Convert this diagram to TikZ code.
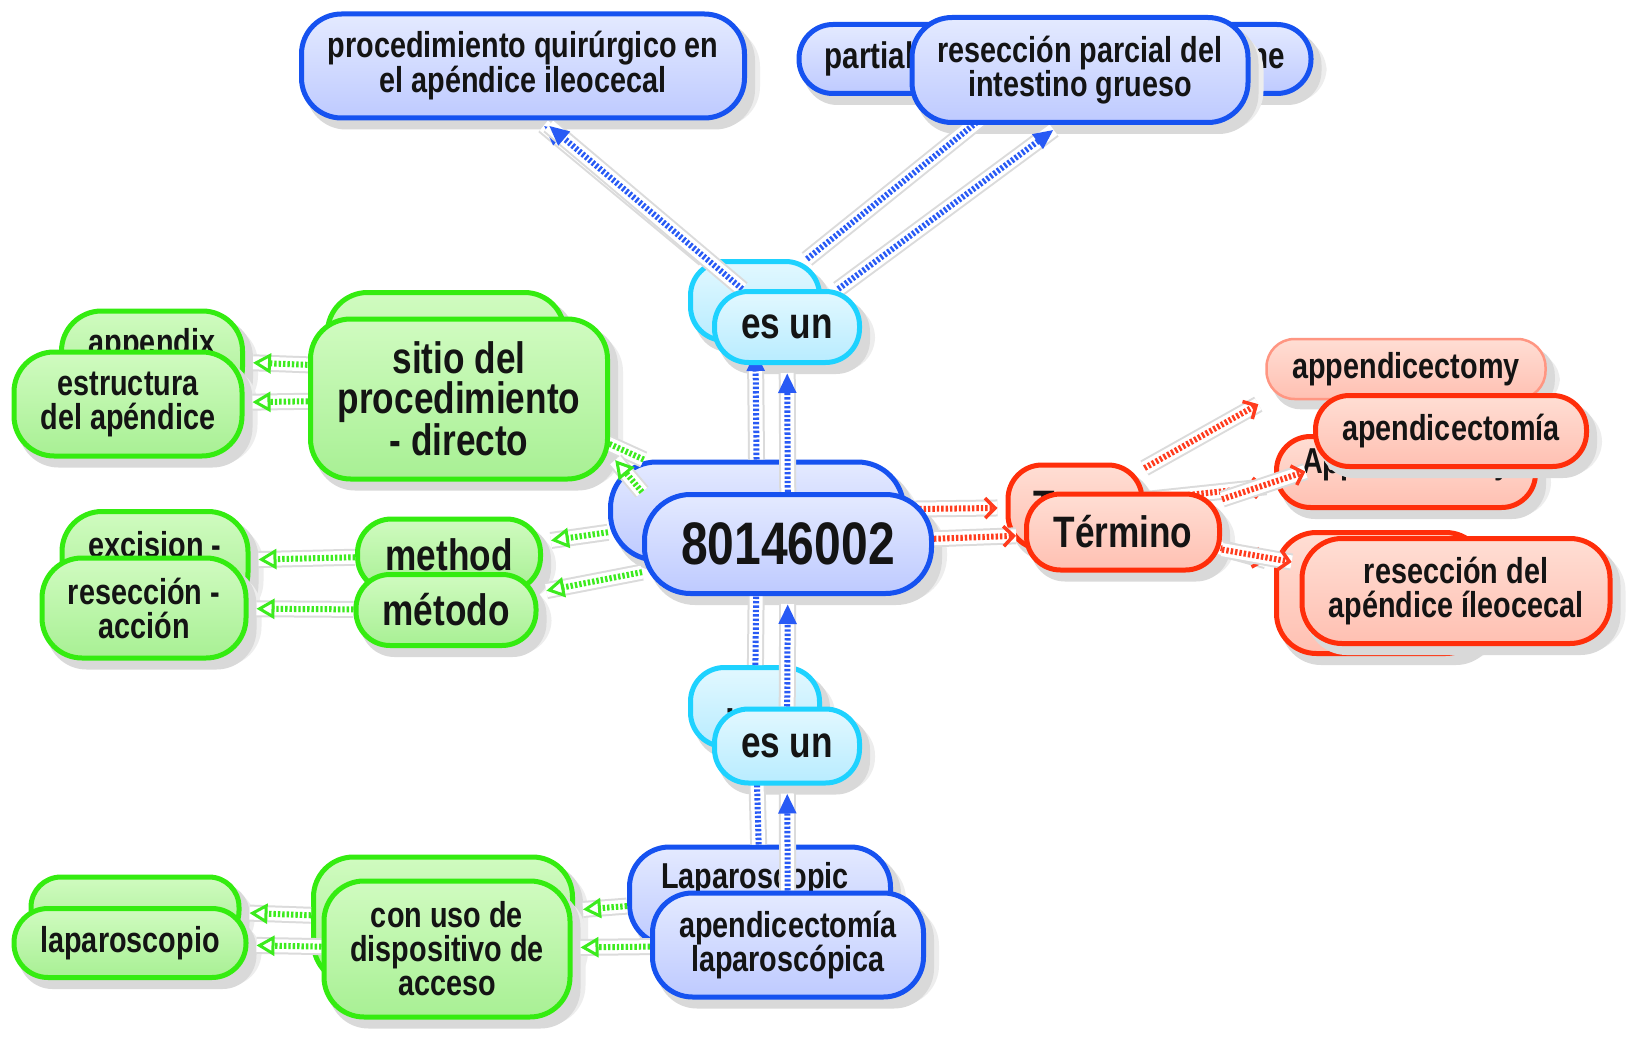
\documentclass[tikz,border=0pt]{standalone}
\usepackage{fontspec}
\setmainfont{Liberation Sans}[FakeStretch=0.8]
\usetikzlibrary{arrows.meta}
\definecolor{bB}{RGB}{22,82,240}
\definecolor{bT}{RGB}{228,234,255}
\definecolor{bD}{RGB}{190,202,255}
\definecolor{cB}{RGB}{30,210,255}
\definecolor{cT}{RGB}{226,248,255}
\definecolor{cD}{RGB}{184,236,255}
\definecolor{gB}{RGB}{52,236,16}
\definecolor{gT}{RGB}{208,251,192}
\definecolor{gD}{RGB}{168,240,148}
\definecolor{rB}{RGB}{255,46,10}
\definecolor{rT}{RGB}{255,222,212}
\definecolor{rD}{RGB}{255,192,178}
\definecolor{rP}{RGB}{255,150,130}
\definecolor{lkB}{RGB}{40,90,245}
\definecolor{lkG}{RGB}{60,235,30}
\definecolor{lkR}{RGB}{255,60,30}
\pgfdeclarelayer{bgl}
\pgfdeclarelayer{shdB}
\pgfdeclarelayer{bk}
\pgfdeclarelayer{shdF}
\pgfdeclarelayer{lnk}
\pgfsetlayers{bgl,shdB,bk,shdF,lnk,main}
\tikzset{
  cnode/.style={rounded corners=34pt, line width=5pt, align=center, inner sep=0pt,
    font=\bfseries\fontsize{36}{34}\selectfont, text=black!92},
  sz/.style 2 args={minimum width=#1, minimum height=#2},
  big/.style={font=\bfseries\fontsize{44}{40}\selectfont},
  huge/.style={font=\bfseries\fontsize{60}{60}\selectfont},
  bluen/.style={cnode, draw=bB, top color=bT, bottom color=bD},
  cyann/.style={cnode, draw=cB, top color=cT, bottom color=cD},
  greenn/.style={cnode, draw=gB, top color=gT, bottom color=gD},
  redn/.style={cnode, draw=rB, top color=rT, bottom color=rD},
  palen/.style={cnode, line width=2.5pt, draw=rP, top color=rT, bottom color=rD},
  shadowouter/.style={fill=black!7},
  shadowinner/.style={fill=black!15},
  lk/.style={line width=6pt, dash pattern=on 2.4pt off 2pt, shorten >=8pt,
    preaction={draw=black!14, line width=17pt, solid, -},
    preaction={draw=white, line width=13pt, solid, -}},
  isa/.style={lk, draw=lkB, -{Triangle[length=20pt,width=17pt]}},
  grl/.style={lk, draw=lkG, -{Triangle[length=18pt,width=20pt,line width=3pt,fill=white]}},
  rdl/.style={lk, draw=lkR, -{Straight Barb[length=10pt,width=20pt,line width=3.5pt]}}
}
\newcommand\shadowof[2]{%
  \fill[shadowouter, rounded corners=#2]
    ([shift={(5pt,-6pt)}]#1.south west) rectangle ([shift={(13pt,-15pt)}]#1.north east);
  \fill[shadowinner, rounded corners=#2]
    ([shift={(7pt,-9pt)}]#1.south west) rectangle ([shift={(8pt,-9pt)}]#1.north east);}
\begin{document}
\begin{tikzpicture}[x=1pt,y=1pt]
\begin{pgfonlayer}{bgl}
\fill[white] (0,0) rectangle (1631,-1038);
\end{pgfonlayer}
\useasboundingbox (0,0) rectangle (1631,-1038);

% ---------- back layer ----------
\begin{pgfonlayer}{bk}
\node[bluen, sz={512}{69}, font=\bfseries\fontsize{37}{34}\selectfont] (partialB) at (1055,-59) {partial excision of large intestine};
\node[cyann, big, sz={129}{79}] (esunTB) at (755,-301) {};
\node[bluen, sz={293}{98}, rounded corners=46pt] (numB) at (757,-511) {};
\node[redn, big, sz={134}{84}] (terB) at (1075,-507) {Term};
\node[palen, sz={279}{60}, rounded corners=28pt] (appy) at (1406,-369) {appendicectomy};
\node[redn, sz={259}{71}] (apB) at (1406,-472) {\raisebox{8pt}[\height][\depth]{Appendectomy}};
\node[redn, sz={209}{121}, rounded corners=40pt] (rdaB) at (1381,-593) {};
\node[greenn, sz={237}{155}, rounded corners=40pt] (sitioB) at (446,-370) {};
\node[greenn, sz={181}{96}, rounded corners=40pt] (apxB) at (152,-359) {appendix\\structure};
\node[greenn, sz={186}{101}, rounded corners=40pt] (excB) at (155,-562) {excision -\\action};
\node[greenn, big, sz={183}{72}] (methB) at (449,-555) {method};
\node[cyann, big, sz={129}{79}] (esunBB) at (755,-707) {\raisebox{-18pt}[\height][\depth]{is a}};
\node[bluen, sz={261}{98}, rounded corners=40pt] (lapB) at (760,-896) {\kern-10pt Laparoscopic\\appendectomy};
\node[greenn, sz={259}{126}, rounded corners=40pt] (conB) at (443,-920) {};
\node[greenn, sz={208}{64}, rounded corners=30pt] (lapscB) at (135,-909) {\raisebox{-14pt}[\height][\depth]{Laparoscope}};
\end{pgfonlayer}

% ---------- front layer ----------
\node[bluen, sz={443}{104}, rounded corners=40pt] (pq) at (523,-66) {procedimiento quirúrgico en\\el apéndice ileocecal};
\node[bluen, sz={336}{105}, rounded corners=40pt] (rpig) at (1080,-70) {resección parcial del\\intestino grueso};
\node[cyann, big, sz={145}{71}] (esunT) at (787,-327) {es un};
\node[bluen, huge, sz={287}{99}, rounded corners=46pt] (num) at (788,-544) {80146002};
\node[redn, big, sz={193}{76}] (ter) at (1123,-532) {Término};
\node[redn, sz={271}{71}] (apmia) at (1451,-431) {apendicectomía};
\node[redn, sz={308}{105}, rounded corners=40pt] (rda) at (1456,-591) {resección del\\apéndice íleocecal};
\node[greenn, big, sz={297}{160}, rounded corners=40pt] (sitio) at (459,-399) {sitio del\\procedimiento\\- directo};
\node[greenn, sz={228}{104}, rounded corners=40pt] (estr) at (128,-404) {estructura\\del apéndice};
\node[greenn, sz={204}{100}, rounded corners=40pt] (racc) at (144,-608) {resección -\\acción};
\node[greenn, big, sz={180}{71}] (metodo) at (446,-610) {método};
\node[cyann, big, sz={145}{74}] (esunB) at (787,-746) {es un};
\node[bluen, sz={271}{104}, rounded corners=40pt] (lapap) at (788,-945) {apendicectomía\\laparoscópica};
\node[greenn, sz={246}{136}, rounded corners=40pt] (con) at (447,-949) {con uso de\\dispositivo de\\acceso};
\node[greenn, sz={232}{69}] (lapsc) at (130,-943) {laparoscopio};

% ---------- shadows ----------
\begin{pgfonlayer}{shdB}
\foreach \n/\r in {partialB/34, esunTB/34, numB/46, terB/34, appy/28, apB/34, rdaB/40,
  sitioB/40, apxB/40, excB/40, methB/34, esunBB/34, lapB/40, conB/40, lapscB/30}
  {\shadowof{\n}{\r pt}}
\end{pgfonlayer}
\begin{pgfonlayer}{shdF}
\foreach \n/\r in {pq/40, rpig/40, esunT/34, num/46, ter/34, apmia/34, rda/40, sitio/40,
  estr/40, racc/40, metodo/34, esunB/34, lapap/40, con/40, lapsc/34}
  {\shadowof{\n}{\r pt}}
\end{pgfonlayer}

% ---------- connectors ----------
\begin{pgfonlayer}{lnk}
\draw[isa] (esunTB) -- (pq.285);
\draw[isa] (esunT) -- (pq.290);
\draw[isa] (esunTB) -- (partialB);
\draw[isa] (esunT) -- (rpig.250);
\draw[isa] (numB) -- (esunTB);
\draw[isa] (num) -- (esunT);
\draw[isa] (esunBB) -- (numB);
\draw[isa] (esunB) -- (num);
\draw[isa] (lapB) -- (esunBB);
\draw[isa] (lapap) -- (esunB);

\draw[grl] (numB) -- (sitioB);
\draw[grl] (num.north west) -- (sitio.-20);
\draw[grl] (sitioB) -- (apxB);
\draw[grl] (sitio) -- (estr);
\draw[grl] (numB) -- (methB);
\draw[grl] (num) -- (metodo);
\draw[grl] (methB) -- (excB);
\draw[grl] (metodo) -- (racc);
\draw[grl] (lapB) -- (conB);
\draw[grl] (lapap) -- (con);
\draw[grl] (conB) -- (lapscB);
\draw[grl] (con) -- (lapsc);

\draw[rdl] (numB) -- (terB);
\draw[rdl] (num) -- (ter);
\draw[rdl] (terB) -- (appy.south west);
\draw[rdl] (terB) -- (apB);
\draw[rdl] (ter) -- (apmia.south west);
\draw[rdl] (terB) -- (rdaB);
\draw[rdl] (ter) -- (rda);
\end{pgfonlayer}
\end{tikzpicture}
\end{document}
